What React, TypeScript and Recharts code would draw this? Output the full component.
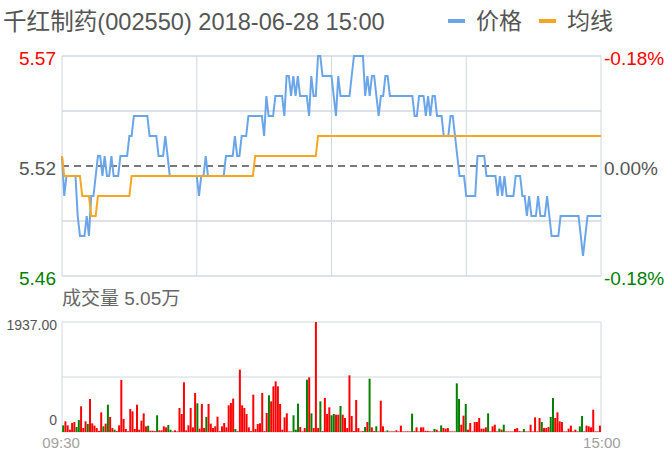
import React from 'react';
import { LineChart, Line, XAxis, YAxis, ReferenceLine, BarChart, Bar, Cell, CartesianGrid } from 'recharts';

// ---- data ----
const priceValues = [
  5.52, 5.50, 5.51, 5.51, 5.51, 5.51, 5.51, 5.49, 5.48, 5.48,
  5.48, 5.49, 5.48, 5.50, 5.50, 5.51, 5.52, 5.52, 5.51, 5.52,
  5.51, 5.51, 5.52, 5.51, 5.51, 5.51, 5.52, 5.52, 5.52, 5.52,
  5.53, 5.53, 5.54, 5.54, 5.54, 5.54, 5.54, 5.54, 5.54, 5.53,
  5.53, 5.53, 5.53, 5.52, 5.52, 5.52, 5.53, 5.52, 5.51, 5.51,
  5.51, 5.51, 5.51, 5.51, 5.51, 5.51, 5.51, 5.51, 5.51, 5.51,
  5.51, 5.50, 5.51, 5.51, 5.52, 5.51, 5.51, 5.51, 5.51, 5.51,
  5.51, 5.51, 5.51, 5.52, 5.52, 5.52, 5.52, 5.53, 5.52, 5.52,
  5.53, 5.53, 5.53, 5.54, 5.54, 5.54, 5.54, 5.54, 5.54, 5.54,
  5.53, 5.55, 5.54, 5.54, 5.54, 5.55, 5.55, 5.55, 5.55, 5.54,
  5.56, 5.56, 5.55, 5.56, 5.55, 5.56, 5.55, 5.55, 5.55, 5.55,
  5.54, 5.56, 5.55, 5.55, 5.57, 5.57, 5.56, 5.56, 5.56, 5.56,
  5.56, 5.55, 5.54, 5.56, 5.55, 5.55, 5.55, 5.55, 5.55, 5.56,
  5.57, 5.57, 5.57, 5.57, 5.57, 5.55, 5.56, 5.55, 5.56, 5.56,
  5.55, 5.54, 5.55, 5.55, 5.56, 5.56, 5.55, 5.55, 5.55, 5.55,
  5.55, 5.55, 5.55, 5.55, 5.55, 5.55, 5.55, 5.54, 5.54, 5.55,
  5.55, 5.55, 5.54, 5.55, 5.54, 5.55, 5.55, 5.54, 5.54, 5.54,
  5.53, 5.53, 5.53, 5.54, 5.54, 5.53, 5.52, 5.51, 5.51, 5.51,
  5.50, 5.50, 5.50, 5.50, 5.50, 5.52, 5.52, 5.52, 5.52, 5.51,
  5.51, 5.51, 5.51, 5.51, 5.50, 5.51, 5.50, 5.51, 5.50, 5.50,
  5.50, 5.50, 5.51, 5.51, 5.51, 5.50, 5.50, 5.49, 5.50, 5.49,
  5.49, 5.49, 5.50, 5.49, 5.49, 5.49, 5.50, 5.49, 5.48, 5.48,
  5.48, 5.48, 5.49, 5.49, 5.49, 5.49, 5.49, 5.49, 5.49, 5.49,
  5.49, 5.48, 5.47, 5.48, 5.49, 5.49, 5.49, 5.49, 5.49, 5.49, 5.49,
];

const avgValues = [
  5.52, 5.51, 5.51, 5.51, 5.51, 5.51, 5.51, 5.51, 5.51, 5.50,
  5.50, 5.50, 5.50, 5.49, 5.49, 5.49, 5.50, 5.50, 5.50, 5.50,
  5.50, 5.50, 5.50, 5.50, 5.50, 5.50, 5.50, 5.50, 5.50, 5.50,
  5.50, 5.51, 5.51, 5.51, 5.51, 5.51, 5.51, 5.51, 5.51, 5.51,
  5.51, 5.51, 5.51, 5.51, 5.51, 5.51, 5.51, 5.51, 5.51, 5.51,
  5.51, 5.51, 5.51, 5.51, 5.51, 5.51, 5.51, 5.51, 5.51, 5.51,
  5.51, 5.51, 5.51, 5.51, 5.51, 5.51, 5.51, 5.51, 5.51, 5.51,
  5.51, 5.51, 5.51, 5.51, 5.51, 5.51, 5.51, 5.51, 5.51, 5.51,
  5.51, 5.51, 5.51, 5.51, 5.51, 5.51, 5.52, 5.52, 5.52, 5.52,
  5.52, 5.52, 5.52, 5.52, 5.52, 5.52, 5.52, 5.52, 5.52, 5.52,
  5.52, 5.52, 5.52, 5.52, 5.52, 5.52, 5.52, 5.52, 5.52, 5.52,
  5.52, 5.52, 5.52, 5.52, 5.53, 5.53, 5.53, 5.53, 5.53, 5.53,
  5.53, 5.53, 5.53, 5.53, 5.53, 5.53, 5.53, 5.53, 5.53, 5.53,
  5.53, 5.53, 5.53, 5.53, 5.53, 5.53, 5.53, 5.53, 5.53, 5.53,
  5.53, 5.53, 5.53, 5.53, 5.53, 5.53, 5.53, 5.53, 5.53, 5.53,
  5.53, 5.53, 5.53, 5.53, 5.53, 5.53, 5.53, 5.53, 5.53, 5.53,
  5.53, 5.53, 5.53, 5.53, 5.53, 5.53, 5.53, 5.53, 5.53, 5.53,
  5.53, 5.53, 5.53, 5.53, 5.53, 5.53, 5.53, 5.53, 5.53, 5.53,
  5.53, 5.53, 5.53, 5.53, 5.53, 5.53, 5.53, 5.53, 5.53, 5.53,
  5.53, 5.53, 5.53, 5.53, 5.53, 5.53, 5.53, 5.53, 5.53, 5.53,
  5.53, 5.53, 5.53, 5.53, 5.53, 5.53, 5.53, 5.53, 5.53, 5.53,
  5.53, 5.53, 5.53, 5.53, 5.53, 5.53, 5.53, 5.53, 5.53, 5.53,
  5.53, 5.53, 5.53, 5.53, 5.53, 5.53, 5.53, 5.53, 5.53, 5.53,
  5.53, 5.53, 5.53, 5.53, 5.53, 5.53, 5.53, 5.53, 5.53, 5.53, 5.53,
];

const volumeValues = [
  117, 188, 117, 40, 158, 176, 88, 211, 452, 70,
  188, 141, 581, 153, 112, 70, 20, 346, 100, 147,
  481, 264, 70, 41, 15, 117, 916, 229, 53, 15,
  405, 364, 53, 481, 41, 200, 329, 100, 112, 23,
  23, 15, 294, 29, 29, 100, 82, 123, 41, 10,
  29, 10, 423, 317, 875, 29, 117, 423, 82, 687,
  505, 59, 493, 70, 264, 493, 147, 70, 100, 270,
  15, 100, 158, 82, 470, 511, 587, 53, 15, 1098,
  470, 423, 317, 82, 15, 657, 53, 141, 153, 687,
  15, 335, 646, 540, 804, 892, 804, 493, 41, 258,
  329, 10, 10, 294, 41, 499, 88, 10, 70, 922,
  963, 329, 70, 1937, 70, 540, 15, 599, 317, 434,
  294, 317, 305, 305, 458, 305, 247, 70, 998, 282,
  15, 564, 70, 10, 15, 88, 176, 939, 82, 15,
  100, 10, 552, 100, 10, 29, 10, 10, 10, 29,
  10, 112, 10, 10, 12, 10, 323, 15, 82, 10,
  82, 82, 20, 20, 10, 10, 53, 41, 10, 117,
  70, 59, 70, 10, 10, 10, 857, 581, 129, 288,
  493, 41, 158, 10, 176, 176, 247, 59, 59, 82,
  329, 10, 100, 129, 10, 59, 41, 129, 10, 10,
  10, 10, 53, 70, 15, 10, 53, 10, 10, 129,
  10, 258, 10, 247, 176, 70, 70, 88, 264, 599,
  247, 346, 188, 176, 10, 10, 59, 112, 10, 41,
  10, 100, 282, 10, 112, 100, 82, 393, 10, 10, 112,
];

// minutes whose volume bar is green (price fell)
const volumeDownIndex = [
  0, 6, 7, 11, 18, 20, 23, 38, 42, 47, 48, 60, 64, 77,
  92, 103, 104, 105, 109, 111, 115, 120, 121, 124, 135, 137, 140, 145, 156,
  166, 169, 176, 177, 180, 190, 195, 197, 206, 214, 218, 219, 231, 232,
];

const preClose = 5.515;
const priceTicks = [5.46, 5.4875, 5.515, 5.5425, 5.57];
const priceTickLabels = ['5.46', '', '5.52', '', '5.57'];
const pctTickLabels = ['-0.18%', '', '0.00%', '', '-0.18%'];
const tickColors = ['#008000', '', '#555555', '', '#ff0000'];
const gridPrices = [5.46, 5.4875, 5.5425, 5.57];
const gridMinutes = [0, 60, 120, 180, 240];
const volTicks = [0, 968.5, 1937];
const volTickLabels = ['0', '', '1937.00'];
const timeTickLabels = ['09:30', '15:00'];

const title = '千红制药(002550) 2018-06-28 15:00';
const volumeTitle = '成交量 5.05万';
const legendItems = [
  { name: '价格', color: '#6aa5ea' },
  { name: '均线', color: '#f5a623' },
];

const pad = (n: number) => (n < 10 ? '0' + n : '' + n);
const buildTimes = () => {
  const t: string[] = [];
  for (let m = 9 * 60 + 30; m <= 11 * 60 + 30; m++) t.push(pad(Math.floor(m / 60)) + ':' + pad(m % 60));
  for (let m = 13 * 60 + 1; m <= 15 * 60; m++) t.push(pad(Math.floor(m / 60)) + ':' + pad(m % 60));
  return t;
};
const times = buildTimes();

const priceTable = priceValues.map((p, i) => ({ i, time: times[i], price: p, avg: avgValues[i] }));
const volTable = volumeValues.map((v, i) => ({ i, time: times[i], vol: v, down: volumeDownIndex.indexOf(i) >= 0 }));

const FONT = "'Liberation Sans', Arial, 'Noto Sans CJK SC', sans-serif";
const RED = '#ff0000';
const GREEN = '#008000';
const GRID = '#dde1ea';
const GRID_V = '#cfd6e4';

function LeftTick(props: any) {
  const { x, y, payload } = props;
  const k = priceTicks.indexOf(payload.value);
  const label = priceTickLabels[k];
  if (!label) return <g />;
  return (
    <text x={x} y={y} dy={9} textAnchor="end" fill={tickColors[k]} fontSize={19} fontFamily={FONT}>
      {label}
    </text>
  );
}

function RightTick(props: any) {
  const { x, y, payload } = props;
  const k = priceTicks.indexOf(payload.value);
  const label = pctTickLabels[k];
  if (!label) return <g />;
  return (
    <text x={x} y={y} dy={9} textAnchor="start" fill={tickColors[k]} fontSize={19} fontFamily={FONT}>
      {label}
    </text>
  );
}

function VolTick(props: any) {
  const { x, y, payload } = props;
  const k = volTicks.indexOf(payload.value);
  const label = volTickLabels[k];
  if (!label) return <g />;
  return (
    <text x={x} y={y} dy={k === 0 ? -7 : 8} textAnchor="end" fill="#555555" fontSize={14} fontFamily={FONT}>
      {label}
    </text>
  );
}

function TimeTick(props: any) {
  const { x, y, index } = props;
  let label = '';
  let dx = 0;
  if (index === 0) { label = timeTickLabels[0]; dx = -2; }
  else if (index === volTable.length - 1) { label = timeTickLabels[1]; dx = 2; }
  if (!label) return <g />;
  return (
    <text x={x} y={y} dx={dx} dy={16} textAnchor="middle" fill="#a0a0a0" fontSize={15} fontFamily={FONT}>
      {label}
    </text>
  );
}

export default function App() {
  return (
    <div style={{ position: 'absolute', left: 0, top: 0, width: 672, height: 461, background: '#ffffff', fontFamily: FONT }}>
      <div style={{ position: 'absolute', left: 3, top: 10, fontSize: 23.6, lineHeight: '24px', color: '#555555', whiteSpace: 'nowrap' }}>
        {title}
      </div>
      <div style={{ position: 'absolute', left: 448, top: 9, height: 24, display: 'flex', alignItems: 'center', fontSize: 23, color: '#555555' }}>
        {legendItems.map((it, k) => (
          <div key={k} style={{ display: 'flex', alignItems: 'center', marginRight: k === 0 ? 17 : 0 }}>
            <div style={{ width: 17, height: 4, background: it.color, marginRight: 11 }} />
            <span style={{ lineHeight: '24px' }}>{it.name}</span>
          </div>
        ))}
      </div>

      <div style={{ position: 'absolute', left: 0, top: 0 }}>
        <LineChart width={672} height={290} data={priceTable} margin={{ top: 56, right: 0, left: 0, bottom: 14 }}>
          <XAxis dataKey="i" type="number" domain={[0, 240]} hide />
          <YAxis yAxisId="left" orientation="left" width={62} type="number" domain={[5.46, 5.57]} ticks={priceTicks}
            axisLine={false} tickLine={false} tickSize={0} tickMargin={6} tick={<LeftTick />} interval={0} />
          <YAxis yAxisId="right" orientation="right" width={71} type="number" domain={[5.46, 5.57]} ticks={priceTicks}
            axisLine={false} tickLine={false} tickSize={0} tickMargin={3} tick={<RightTick />} interval={0} />
          {gridPrices.map((p) => (
            <ReferenceLine key={'h' + p} yAxisId="left" y={p} stroke={GRID} strokeWidth={2} />
          ))}
          {gridMinutes.map((m) => (
            <ReferenceLine key={'v' + m} yAxisId="left" x={m} stroke={GRID_V} strokeWidth={1} />
          ))}
          <ReferenceLine yAxisId="left" y={preClose} stroke="#7a7a7a" strokeWidth={2} strokeDasharray="7 5" />
          <Line yAxisId="left" dataKey="price" type="linear" stroke="#6aa5ea" strokeWidth={2} dot={false} isAnimationActive={false} />
          <Line yAxisId="right" dataKey="avg" type="linear" stroke="#f5a623" strokeWidth={2} dot={false} isAnimationActive={false} />
        </LineChart>
      </div>

      <div style={{ position: 'absolute', left: 62, top: 288, fontSize: 19, lineHeight: '22px', color: '#666666', whiteSpace: 'nowrap' }}>
        {volumeTitle}
      </div>

      <div style={{ position: 'absolute', left: 0, top: 300 }}>
        <BarChart width={672} height={161} data={volTable} margin={{ top: 22, right: 71, left: 0, bottom: 9 }} barCategoryGap="8%">
          <CartesianGrid stroke={GRID_V} strokeWidth={1}
            verticalCoordinatesGenerator={(p: any) => [p.offset.left, p.offset.left + p.offset.width]} />
          <XAxis dataKey="time" height={20} axisLine={false} tickLine={false} tickSize={0} tickMargin={0} interval={0} tick={<TimeTick />} />
          <YAxis width={62} type="number" domain={[0, 1937]} ticks={volTicks} interval={0}
            axisLine={false} tickLine={false} tickSize={0} tickMargin={5} tick={<VolTick />} />
          <Bar dataKey="vol" isAnimationActive={false}>
            {volTable.map((d, k) => (
              <Cell key={k} fill={d.down ? GREEN : RED} />
            ))}
          </Bar>
        </BarChart>
      </div>
    </div>
  );
}
